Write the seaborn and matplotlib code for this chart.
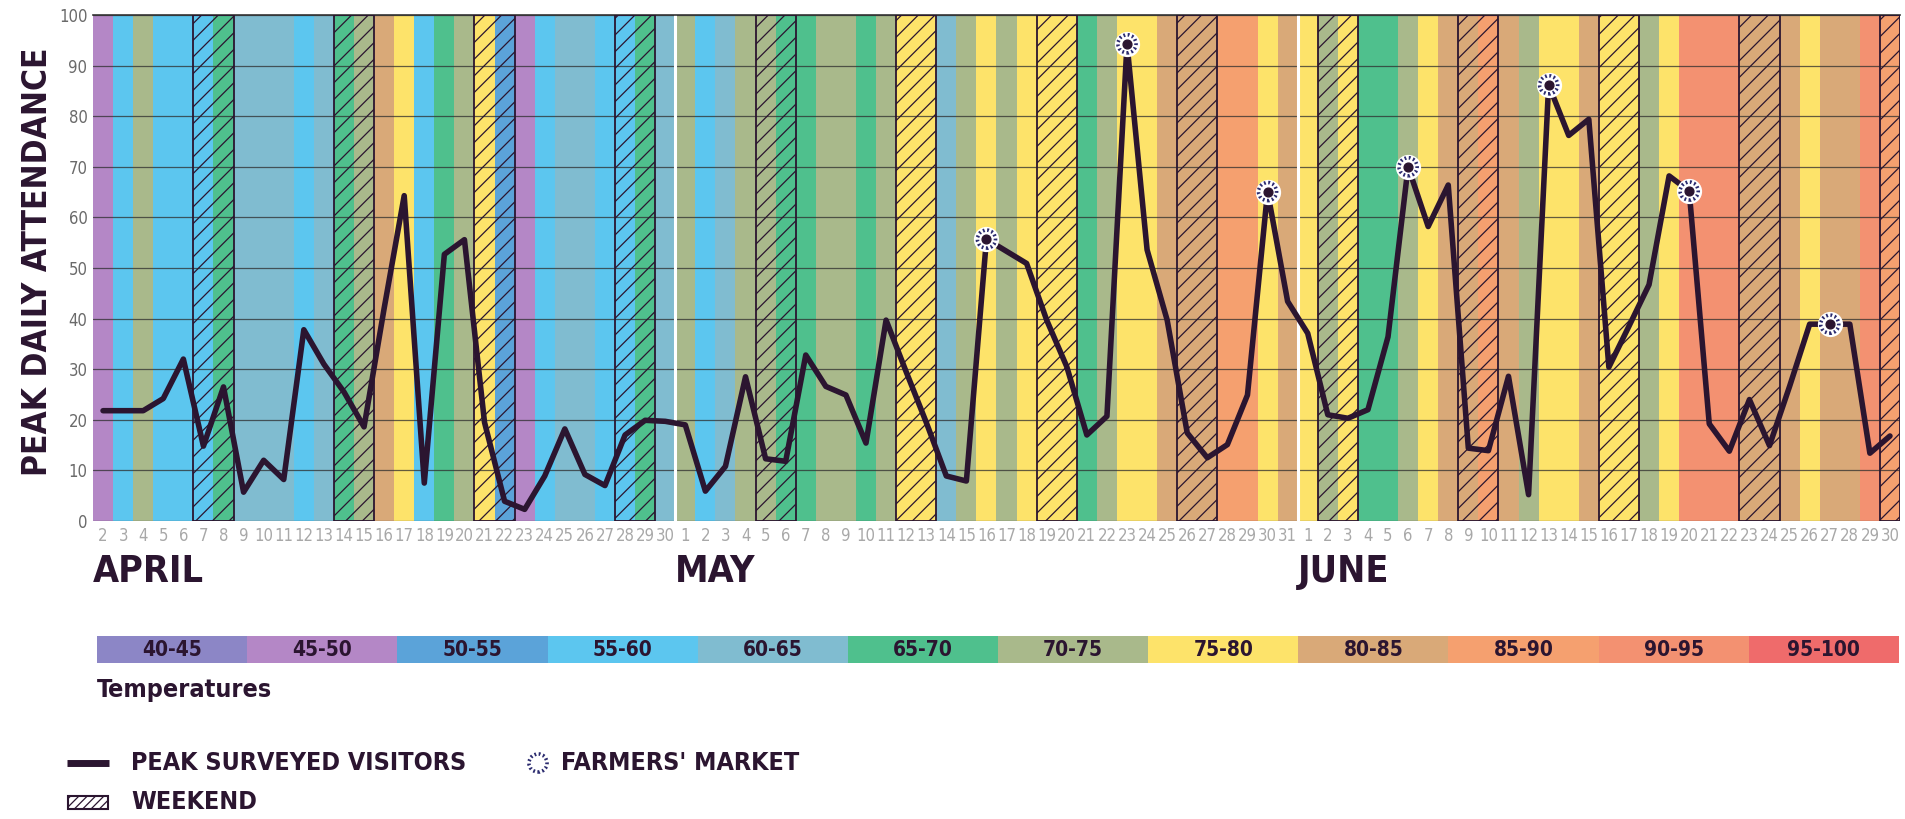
import numpy as np
import pandas as pd
import matplotlib
matplotlib.use("Agg")
import matplotlib.pyplot as plt
import matplotlib.transforms as mtransforms
from matplotlib import font_manager
from matplotlib.patches import Rectangle
import seaborn as sns

# temperature legend
temp_bins = ['40-45', '45-50', '50-55', '55-60', '60-65', '65-70',
             '70-75', '75-80', '80-85', '85-90', '90-95', '95-100']
temp_colors = ['#8c86c6', '#b487c6', '#5ba3d9', '#5cc6ef', '#80bcd0', '#4fc08d',
               '#a9b98b', '#fde36a', '#d9a978', '#f5a06f', '#f39171', '#ef6b6b']

# days shown per month
april_days = list(range(2, 31))
may_days = list(range(1, 32))
june_days = list(range(1, 31))

# peak surveyed visitors
april_visitors = [21.8, 21.8, 21.8, 24.2, 32.0, 14.8, 26.5, 5.7, 12.0, 8.2,
                  37.8, 31.0, 25.5, 18.6, 42.0, 64.3, 7.5, 52.7, 55.6, 19.5,
                  3.9, 2.3, 8.9, 18.2, 9.2, 7.0, 17.0, 19.9, 19.7]
may_visitors = [19.0, 5.9, 10.8, 28.5, 12.3, 11.8, 32.8, 26.6, 24.9, 15.4,
                39.7, 29.5, 19.5, 8.9, 7.9, 55.7, 53.3, 50.9, 39.7, 30.5,
                17.0, 20.7, 94.3, 53.6, 39.7, 17.4, 12.5, 15.1, 24.9, 65.1, 43.4]
june_visitors = [37.1, 21.0, 20.3, 22.0, 36.4, 70.0, 58.2, 66.4, 14.4, 13.9,
                 28.6, 5.2, 86.2, 76.2, 79.4, 30.4, 38.5, 46.7, 68.2, 65.2,
                 19.2, 13.8, 24.0, 14.9, 26.6, 38.9, 38.9, 38.9, 13.4, 16.8]

# daily temperature range
april_temps = ['45-50', '55-60', '70-75', '55-60', '55-60', '55-60', '65-70', '60-65',
               '60-65', '60-65', '55-60', '60-65', '65-70', '70-75', '80-85', '75-80',
               '55-60', '65-70', '70-75', '75-80', '50-55', '45-50', '55-60', '60-65',
               '60-65', '55-60', '55-60', '65-70', '60-65']
may_temps = ['70-75', '55-60', '60-65', '70-75', '70-75', '65-70', '65-70', '70-75',
             '70-75', '65-70', '70-75', '75-80', '75-80', '60-65', '70-75', '75-80',
             '70-75', '75-80', '75-80', '75-80', '65-70', '70-75', '75-80', '75-80',
             '80-85', '80-85', '80-85', '85-90', '85-90', '75-80', '80-85']
june_temps = ['75-80', '70-75', '75-80', '65-70', '65-70', '70-75', '75-80', '80-85',
              '80-85', '85-90', '80-85', '70-75', '75-80', '75-80', '80-85', '75-80',
              '75-80', '70-75', '75-80', '90-95', '90-95', '90-95', '80-85', '80-85',
              '80-85', '75-80', '80-85', '80-85', '90-95', '85-90']

weekend_days = {'April': [7, 8, 14, 15, 21, 22, 28, 29],
                'May': [5, 6, 12, 13, 19, 20, 26, 27],
                'June': [2, 3, 9, 10, 16, 17, 23, 24, 30]}
market_days = {'May': [16, 23, 30], 'June': [6, 13, 20, 27]}

months = ['April', 'May', 'June']
df = pd.concat([
    pd.DataFrame({'month': 'April', 'day': april_days, 'visitors': april_visitors, 'temp': april_temps}),
    pd.DataFrame({'month': 'May', 'day': may_days, 'visitors': may_visitors, 'temp': may_temps}),
    pd.DataFrame({'month': 'June', 'day': june_days, 'visitors': june_visitors, 'temp': june_temps}),
], ignore_index=True)
df['idx'] = np.arange(len(df))
df['weekend'] = [d in weekend_days[m] for m, d in zip(df['month'], df['day'])]
df['market'] = [d in market_days.get(m, []) for m, d in zip(df['month'], df['day'])]
color_of = dict(zip(temp_bins, temp_colors))

# fonts
sns.set_style('white')
names = {f.name for f in font_manager.fontManager.ttflist}
if 'Liberation Sans Narrow' in names:
    FAM, STR = 'Liberation Sans Narrow', 'normal'
else:
    FAM, STR = 'DejaVu Sans', 'condensed'
plt.rcParams['font.family'] = [FAM, 'DejaVu Sans']
plt.rcParams['hatch.linewidth'] = 0.9
DARK = '#2b1530'

W, H = 1905, 819
fig = plt.figure(figsize=(W / 100, H / 100), dpi=100)
ax = fig.add_axes([93 / W, 1 - 521 / H, 1807 / W, 506 / H])

# temperature bands
ax.bar(df['idx'], 100, width=1.0, color=[color_of[t] for t in df['temp']],
       linewidth=0, zorder=0)

# grid
for v in range(0, 101, 10):
    ax.axhline(v, color='#2e2e2e', lw=0.9, alpha=0.75, zorder=1)

# month separators
for m in months[1:]:
    first = df.loc[df['month'] == m, 'idx'].min()
    ax.axvline(first - 0.5, color='white', lw=2.2, zorder=1.5)

# weekend hatching
groups = []
for i in df.index[df['weekend']]:
    if groups and i == groups[-1][-1] + 1:
        groups[-1].append(i)
    else:
        groups.append([i])
ax.bar([np.mean(g) for g in groups], 100, width=[len(g) for g in groups],
       fill=False, hatch='//', edgecolor=DARK, linewidth=1.3, zorder=3)

# visitors line
sns.lineplot(data=df, x='idx', y='visitors', ax=ax, color=DARK, linewidth=4,
             zorder=4, legend=False)

# farmers market markers
mk = df[df['market']]
ax.scatter(mk['idx'], mk['visitors'], s=330, color='white', zorder=5, linewidths=0)
ax.scatter(mk['idx'], mk['visitors'], s=170, facecolor='none', edgecolor='#2a2a6e',
           linewidths=2.6, linestyles=(0, (0.5, 0.7)), zorder=6)
ax.scatter(mk['idx'], mk['visitors'], s=40, color=DARK, zorder=7)

ax.set_xlim(-0.5, len(df) - 0.5)
ax.set_ylim(0, 100)
ax.set_xticks(df['idx'])
ax.set_xticklabels(df['day'], color='#a8a8a8', fontsize=12, fontstretch=STR)
ax.set_yticks(range(0, 101, 10))
ax.set_yticklabels(range(0, 101, 10), color='#6a6a6a', fontsize=12, fontstretch=STR)
ax.tick_params(length=0)
ax.tick_params(axis='x', pad=4)
ax.tick_params(axis='y', pad=4)
ax.set_xlabel('')
ax.set_ylabel('')
for s in ['left', 'right', 'bottom']:
    ax.spines[s].set_visible(False)
ax.spines['top'].set_color('#333333')
ax.spines['top'].set_linewidth(1.2)

fig.text(38 / W, 1 - 262 / H, 'PEAK DAILY ATTENDANCE', rotation=90, ha='center',
         va='center', fontsize=24, fontweight='heavy', fontstretch=STR, color=DARK)

# month titles
trans = mtransforms.blended_transform_factory(ax.transData, fig.transFigure)
for m in months:
    first = df.loc[df['month'] == m, 'idx'].min()
    ax.text(first - 0.5, 1 - 572 / H, m.upper(), transform=trans, ha='left',
            va='center', fontsize=27, fontweight='heavy', fontstretch=STR, color=DARK)

# temperature colour key
tax = fig.add_axes([97 / W, 1 - 663 / H, 1802 / W, 27 / H])
sns.barplot(x=temp_bins, y=[1] * len(temp_bins), hue=temp_bins, palette=temp_colors,
            width=1.0, legend=False, ax=tax, saturation=1, linewidth=0)
for i, t in enumerate(temp_bins):
    tax.text(i, 0.5, t, ha='center', va='center', fontsize=15, fontweight='bold',
             fontstretch=STR, color=DARK)
tax.set_xlim(-0.5, len(temp_bins) - 0.5)
tax.set_ylim(0, 1)
tax.axis('off')
fig.text(97 / W, 1 - 690 / H, 'Temperatures', ha='left', va='center', fontsize=18,
         fontweight='bold', fontstretch=STR, color=DARK)

# legend
lg = fig.add_axes([0, 0, 1, 1])
lg.set_xlim(0, W)
lg.set_ylim(H, 0)
lg.axis('off')
lg.plot([67, 109], [763, 763], color=DARK, lw=5, solid_capstyle='butt')
lg.text(131, 763, 'PEAK SURVEYED VISITORS', ha='left', va='center', fontsize=18,
        fontweight='heavy', fontstretch=STR, color=DARK)
lg.scatter([538], [763], s=330, color='white', zorder=5)
lg.scatter([538], [763], s=170, facecolor='none', edgecolor='#2a2a6e', linewidths=2.6,
           linestyles=(0, (0.5, 0.7)), zorder=6)
lg.text(561, 763, "FARMERS' MARKET", ha='left', va='center', fontsize=18,
        fontweight='heavy', fontstretch=STR, color=DARK)
lg.add_patch(Rectangle((68, 796), 40, 13, fill=False, hatch='////', edgecolor=DARK, lw=1.5))
lg.text(131, 802, 'WEEKEND', ha='left', va='center', fontsize=18,
        fontweight='heavy', fontstretch=STR, color=DARK)

fig.savefig('out.png', dpi=100, facecolor='white')
